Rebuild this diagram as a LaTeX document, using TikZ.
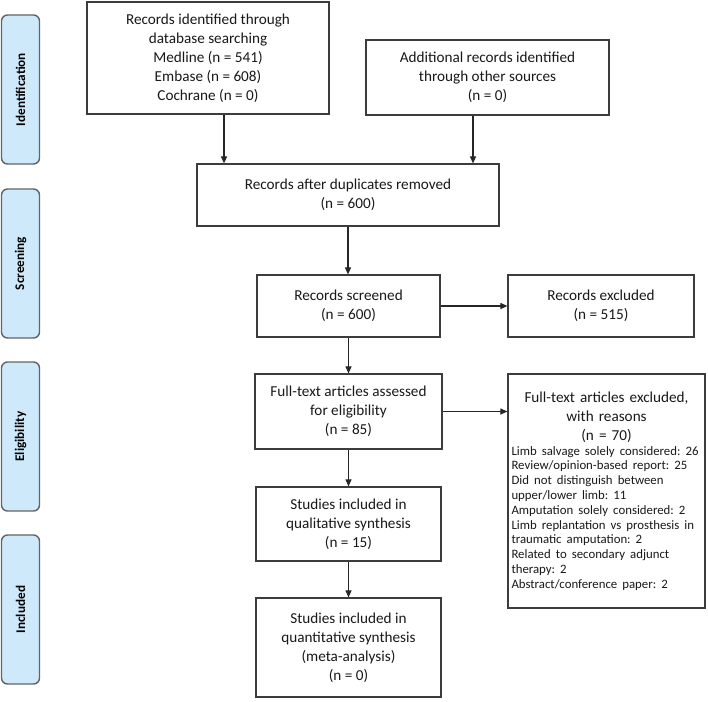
\documentclass[tikz,border=0pt]{standalone}
\usepackage{fontspec}
\setmainfont{Carlito}
\usetikzlibrary{arrows.meta,calc}
\definecolor{sidefill}{RGB}{206,233,250}
\definecolor{sideline}{RGB}{100,100,100}
\definecolor{boxline}{RGB}{60,60,60}
\newcommand{\mainsz}{\fontsize{15.2}{19}\selectfont}
\newcommand{\smallsz}{\fontsize{12.8}{14.8}\selectfont}
\frenchspacing
\tikzset{
  flowbox/.style={draw=boxline, line width=1.2pt, fill=white, inner sep=2pt, align=center, font=\mainsz, text=black!90},
  sidebox/.style={draw=sideline, line width=1.4pt, fill=sidefill, rounded corners=6pt, rotate=90, minimum width=149pt, minimum height=38pt, inner sep=0pt, font=\fontsize{13.2}{15}\selectfont\bfseries},
  arr/.style={draw=black!85, line width=1.1pt, -{Triangle[length=7pt,width=6pt]}}
}
\begin{document}
\begin{tikzpicture}[x=1pt,y=-1pt]
\useasboundingbox (0,0) rectangle (708,701);
% side labels
\node[sidebox] (sid) at (20.5,89.5) {Identification};
\node[sidebox] (sscr) at (20.5,263.5) {Screening};
\node[sidebox] (selig) at (20.5,436.5) {Eligibility};
\node[sidebox] (sincl) at (20.5,609.5) {Included};
% boxes
\node[flowbox, minimum width=242pt, minimum height=112pt] (b1) at (208,58)
  {Records identified through\\ database searching\\ Medline (n = 541)\\ Embase (n = 608)\\ Cochrane (n = 0)};
\node[flowbox, minimum width=243pt, minimum height=75pt] (b2) at (487.5,77.5)
  {Additional records identified\\ through other sources\\ (n = 0)};
\node[flowbox, minimum width=302pt, minimum height=62pt] (b3) at (348,195)
  {Records after duplicates removed\\ (n = 600)};
\node[flowbox, minimum width=183pt, minimum height=62pt] (b4) at (348.5,306)
  {Records screened\\ (n = 600)};
\node[flowbox, minimum width=186pt, minimum height=62pt] (b5) at (601,306)
  {Records excluded\\ (n = 515)};
\node[flowbox, minimum width=187pt, minimum height=75pt] (b6) at (348.5,411.5)
  {Full-text articles assessed\\ for eligibility\\ (n = 85)};
\node[flowbox, minimum width=197pt, minimum height=234pt, text width=193pt, align=left, inner sep=2pt] (b7) at (606.5,491)
  {{\mainsz\makebox[\linewidth][c]{Full-text articles excluded,}\\\makebox[\linewidth][c]{with reasons}\\\makebox[\linewidth][c]{(n = 70)}\par}%
   {\smallsz\hspace*{1.5pt}Limb salvage solely considered: 26\\
   \hspace*{1.5pt}Review/opinion-based report: 25\\
   \hspace*{1.5pt}Did not distinguish between\\
   \hspace*{1.5pt}upper/lower limb: 11\\
   \hspace*{1.5pt}Amputation solely considered: 2\\
   \hspace*{1.5pt}Limb replantation vs prosthesis in\\
   \hspace*{1.5pt}traumatic amputation: 2\\
   \hspace*{1.5pt}Related to secondary adjunct\\
   \hspace*{1.5pt}therapy: 2\\
   \hspace*{1.5pt}Abstract/conference paper: 2\par}};
\node[flowbox, minimum width=185pt, minimum height=74pt] (b8) at (348.5,524)
  {Studies included in\\ qualitative synthesis\\ (n = 15)};
\node[flowbox, minimum width=185pt, minimum height=99pt] (b9) at (348.5,647.5)
  {Studies included in\\ quantitative synthesis\\ (meta-analysis)\\ (n = 0)};
% connectors
\draw[arr] ([xshift=16pt]b1.south) -- ([xshift=16pt]b1.south |- b3.north);
\draw[arr] ([xshift=-14.5pt]b2.south) -- ([xshift=-14.5pt]b2.south |- b3.north);
\draw[arr] (b3.south) -- (b3.south |- b4.north);
\draw[arr] (b4.east) -- (b4.east -| b5.west);
\draw[arr] (b4.south) -- (b4.south |- b6.north);
\draw[arr] (b6.east) -- (b6.east -| b7.west);
\draw[arr] (b6.south) -- (b6.south |- b8.north);
\draw[arr] (b8.south) -- (b8.south |- b9.north);
\end{tikzpicture}
\end{document}
